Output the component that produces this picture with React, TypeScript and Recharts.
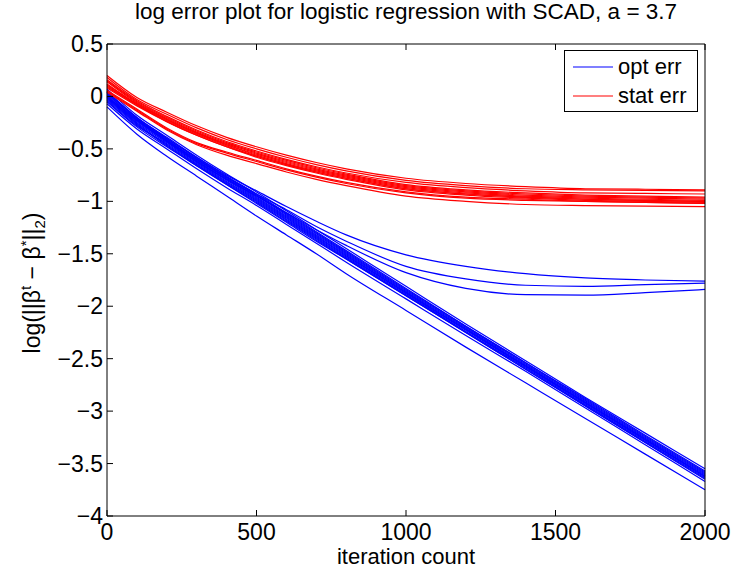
import React from 'react'
import { LineChart, Line, XAxis, YAxis } from 'recharts'

const iterations = [0, 100, 200, 300, 400, 500, 600, 700, 800, 1000, 1200, 1400, 1600, 1800, 2000]
const xTicks = [0, 500, 1000, 1500, 2000]
const yTicks = [-4, -3.5, -3, -2.5, -2, -1.5, -1, -0.5, 0, 0.5]

// opt err runs (blue)
const opt1 = [0.07, -0.18, -0.37, -0.56, -0.74, -0.91, -1.09, -1.27, -1.45, -1.81, -2.17, -2.52, -2.87, -3.21, -3.55]
const opt2 = [0.05, -0.2, -0.39, -0.58, -0.76, -0.93, -1.11, -1.29, -1.47, -1.83, -2.19, -2.54, -2.88, -3.23, -3.57]
const opt3 = [0.04, -0.21, -0.41, -0.6, -0.78, -0.95, -1.13, -1.31, -1.49, -1.85, -2.2, -2.55, -2.9, -3.25, -3.59]
const opt4 = [0.01, -0.23, -0.42, -0.61, -0.79, -0.96, -1.14, -1.32, -1.5, -1.86, -2.21, -2.56, -2.91, -3.26, -3.6]
const opt5 = [-0.01, -0.25, -0.44, -0.63, -0.81, -0.98, -1.16, -1.34, -1.52, -1.87, -2.22, -2.57, -2.92, -3.27, -3.61]
const opt6 = [-0.02, -0.26, -0.46, -0.65, -0.83, -1.0, -1.18, -1.36, -1.54, -1.89, -2.24, -2.59, -2.94, -3.29, -3.63]
const opt7 = [-0.05, -0.29, -0.48, -0.66, -0.84, -1.02, -1.2, -1.38, -1.55, -1.9, -2.25, -2.6, -2.95, -3.3, -3.64]
const opt8 = [-0.07, -0.31, -0.5, -0.69, -0.87, -1.04, -1.22, -1.4, -1.58, -1.93, -2.28, -2.62, -2.97, -3.32, -3.67]
const opt9 = [0.03, -0.22, -0.4, -0.59, -0.77, -0.94, -1.12, -1.3, -1.48, -1.84, -2.19, -2.54, -2.89, -3.24, -3.58]
const opt10 = [0.0, -0.24, -0.43, -0.62, -0.8, -0.97, -1.15, -1.33, -1.51, -1.87, -2.22, -2.57, -2.92, -3.27, -3.62]
const opt11 = [-0.03, -0.27, -0.47, -0.66, -0.84, -1.01, -1.19, -1.37, -1.55, -1.9, -2.25, -2.6, -2.95, -3.3, -3.65]
const opt12 = [-0.04, -0.28, -0.45, -0.64, -0.82, -0.99, -1.17, -1.35, -1.53, -1.88, -2.23, -2.58, -2.93, -3.28, -3.62]
const optLow = [-0.1, -0.36, -0.57, -0.76, -0.95, -1.14, -1.32, -1.5, -1.69, -2.04, -2.39, -2.73, -3.07, -3.41, -3.75]
const optFlat1 = [0.04, -0.2, -0.4, -0.58, -0.75, -0.9, -1.05, -1.19, -1.32, -1.51, -1.62, -1.69, -1.73, -1.75, -1.76]
const optFlat2 = [0.02, -0.22, -0.42, -0.6, -0.77, -0.93, -1.08, -1.24, -1.38, -1.62, -1.74, -1.8, -1.81, -1.795, -1.78]
const optFlat3 = [0.0, -0.23, -0.43, -0.62, -0.79, -0.95, -1.11, -1.27, -1.42, -1.68, -1.83, -1.89, -1.895, -1.87, -1.84]

// stat err runs (red)
const stat1 = [0.2, -0.01, -0.15, -0.28, -0.39, -0.48, -0.56, -0.63, -0.69, -0.78, -0.83, -0.86, -0.88, -0.885, -0.89]
const stat2 = [0.18, -0.03, -0.17, -0.3, -0.41, -0.5, -0.58, -0.65, -0.71, -0.8, -0.85, -0.88, -0.89, -0.895, -0.9]
const stat3 = [0.16, -0.04, -0.19, -0.32, -0.43, -0.52, -0.6, -0.67, -0.73, -0.82, -0.87, -0.9, -0.92, -0.925, -0.93]
const stat4 = [0.14, -0.06, -0.21, -0.34, -0.45, -0.54, -0.62, -0.69, -0.75, -0.85, -0.9, -0.93, -0.95, -0.96, -0.97]
const stat5 = [0.12, -0.07, -0.22, -0.35, -0.46, -0.56, -0.64, -0.71, -0.77, -0.87, -0.92, -0.95, -0.97, -0.98, -0.99]
const stat6 = [0.1, -0.08, -0.23, -0.36, -0.47, -0.57, -0.65, -0.72, -0.78, -0.88, -0.93, -0.96, -0.98, -0.99, -1.0]
const stat7 = [0.08, -0.09, -0.24, -0.37, -0.48, -0.58, -0.66, -0.73, -0.79, -0.89, -0.94, -0.97, -0.99, -1.0, -1.01]
const stat8 = [0.06, -0.12, -0.3, -0.44, -0.53, -0.61, -0.69, -0.76, -0.82, -0.91, -0.96, -0.98, -1.0, -1.01, -1.02]
const stat9 = [0.05, -0.13, -0.31, -0.45, -0.54, -0.62, -0.7, -0.77, -0.83, -0.92, -0.97, -0.99, -1.0, -1.01, -1.02]
const stat10 = [0.04, -0.14, -0.32, -0.46, -0.56, -0.64, -0.72, -0.79, -0.85, -0.95, -1.0, -1.03, -1.04, -1.045, -1.05]
const stat11 = [0.15, -0.05, -0.2, -0.33, -0.44, -0.53, -0.61, -0.68, -0.74, -0.84, -0.89, -0.92, -0.94, -0.95, -0.96]
const stat12 = [0.11, -0.07, -0.22, -0.35, -0.46, -0.55, -0.63, -0.7, -0.76, -0.86, -0.91, -0.94, -0.96, -0.97, -0.98]
const stat13 = [0.09, -0.08, -0.24, -0.37, -0.48, -0.57, -0.65, -0.72, -0.78, -0.88, -0.93, -0.96, -0.98, -0.99, -1.0]

const optRuns = [opt1, opt2, opt3, opt4, opt5, opt6, opt7, opt8, opt9, opt10, opt11, opt12, optLow, optFlat1, optFlat2, optFlat3]
const statRuns = [stat1, stat2, stat3, stat4, stat5, stat6, stat7, stat8, stat9, stat10, stat11, stat12, stat13]

const data = iterations.map((it, i) => {
  const row: Record<string, number> = { it }
  optRuns.forEach((r, k) => { row['opt' + k] = r[i] })
  statRuns.forEach((r, k) => { row['stat' + k] = r[i] })
  return row
})

const FONT = '"Liberation Sans", Arial, Helvetica, sans-serif'
const fmt = (v: number) => (v < 0 ? '\u2212' + String(-v) : String(v))

function BottomTick({ x, y, payload }: any) {
  return (
    <g>
      <line x1={x} y1={y} x2={x} y2={y - 6} stroke="#000" />
      <text x={x} y={y + 24} textAnchor="middle" fontSize={23} fontFamily={FONT} fill="#000">{fmt(payload.value)}</text>
    </g>
  )
}
function LeftTick({ x, y, payload }: any) {
  return (
    <g>
      <line x1={x} y1={y} x2={x + 6} y2={y} stroke="#000" />
      <text x={x - 4} y={y} dy="0.35em" textAnchor="end" fontSize={23} fontFamily={FONT} fill="#000">{fmt(payload.value)}</text>
    </g>
  )
}
function TopTick({ x, y }: any) {
  return <line x1={x} y1={y} x2={x} y2={y + 6} stroke="#000" />
}
function RightTick({ x, y }: any) {
  return <line x1={x} y1={y} x2={x - 6} y2={y} stroke="#000" />
}

export default function App() {
  return (
    <div style={{ position: 'absolute', left: 0, top: 0, width: 732, height: 569, fontFamily: FONT, background: '#fff' }}>
      <div style={{ position: 'absolute', left: 57, width: 698, top: -1, textAlign: 'center', fontSize: 22.5, lineHeight: '26px', whiteSpace: 'nowrap' }}>
        log error plot for logistic regression with SCAD, a = 3.7
      </div>
      <LineChart width={732} height={569} data={data} margin={{ top: 43, right: 26, bottom: 28, left: 0 }}>
        <XAxis dataKey="it" type="number" domain={[0, 2000]} ticks={xTicks} tickSize={0} tickMargin={0}
          axisLine={{ stroke: '#000' }} tickLine={false} tick={<BottomTick />} height={25} interval={0} />
        <XAxis xAxisId="top" orientation="top" dataKey="it" type="number" domain={[0, 2000]} ticks={xTicks}
          tickSize={0} tickMargin={0} axisLine={{ stroke: '#000' }} tickLine={false} tick={<TopTick />} height={1} interval={0} />
        <YAxis type="number" domain={[-4, 0.5]} ticks={yTicks} tickSize={0} tickMargin={0} width={107}
          axisLine={{ stroke: '#000' }} tickLine={false} tick={<LeftTick />} interval={0} />
        <YAxis yAxisId="right" orientation="right" type="number" domain={[-4, 0.5]} ticks={yTicks}
          tickSize={0} tickMargin={0} width={1} axisLine={{ stroke: '#000' }} tickLine={false} tick={<RightTick />} interval={0} />
        {optRuns.map((_, k) => (
          <Line key={'o' + k} dataKey={'opt' + k} type="monotone" stroke="#0000ff" strokeWidth={1.2}
            dot={false} isAnimationActive={false} />
        ))}
        {statRuns.map((_, k) => (
          <Line key={'s' + k} dataKey={'stat' + k} type="monotone" stroke="#ff0000" strokeWidth={1.2}
            dot={false} isAnimationActive={false} />
        ))}
      </LineChart>
      <div style={{ position: 'absolute', left: 406 - 120, width: 240, top: 545, textAlign: 'center', fontSize: 22, lineHeight: '24px' }}>
        iteration count
      </div>
      <div style={{ position: 'absolute', left: 26 - 150, width: 300, top: 283 - 13, height: 26, textAlign: 'center', fontSize: 23, lineHeight: '26px', transform: 'rotate(-90deg)', whiteSpace: 'nowrap' }}>
        log(||β<sup style={{ fontSize: 15 }}>t</sup> − β<sup style={{ fontSize: 15 }}>*</sup>||<sub style={{ fontSize: 15 }}>2</sub>)
      </div>
      <div style={{ position: 'absolute', left: 564, top: 50, width: 132, height: 60, border: '1px solid #000', background: '#fff', fontSize: 22 }}>
        {[['opt err', '#0000ff'], ['stat err', '#ff0000']].map(([name, color], i) => (
          <div key={name} style={{ position: 'absolute', left: 8, top: 3 + i * 29, height: 26, display: 'flex', alignItems: 'center', whiteSpace: 'nowrap' }}>
            <svg width={40} height={4} style={{ marginRight: 5 }}>
              <line x1={0} y1={2} x2={40} y2={2} stroke={color} strokeWidth={1.2} />
            </svg>
            <span>{name}</span>
          </div>
        ))}
      </div>
    </div>
  )
}
